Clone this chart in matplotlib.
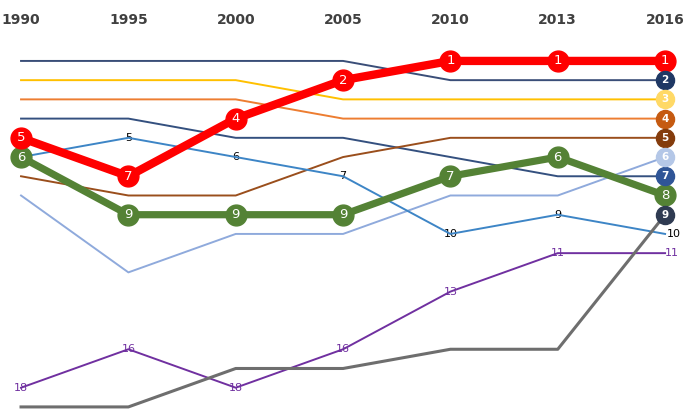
import matplotlib.pyplot as plt

years = ['1990', '1995', '2000', '2005', '2010', '2013', '2016']

# ranks per series (1 = top)
red = [5, 7, 4, 2, 1, 1, 1]
green = [6, 9, 9, 9, 7, 6, 8]
navy = [1, 1, 1, 1, 2, 2, 2]
yellow = [2, 2, 2, 3, 3, 3, 3]
orange = [3, 3, 3, 4, 4, 4, 4]
darkblue = [4, 4, 5, 5, 6, 7, 7]
brown = [7, 8, 8, 6, 5, 5, 5]
lightblue = [8, 12, 10, 10, 8, 8, 6]
blue = [6, 5, 6, 7, 10, 9, 10]
purple = [18, 16, 18, 16, 13, 11, 11]
gray = [19, 19, 17, 17, 16, 16, 9]

x = list(range(len(years)))

fig = plt.figure(figsize=(6.93, 4.2), dpi=100)
ax = fig.add_axes([0, 0, 1, 1])
ax.set_xlim(-0.196, 6.26)
ax.set_ylim(19.68, -2.17)
ax.axis('off')

for i, yr in enumerate(years):
    ax.text(i, -1.13, yr, ha='center', va='center', fontsize=10,
            fontweight='bold', color='#404040')

# thin background series with an end marker at 2016
thin = [
    (navy, '#3A4E78', '#1F3864', 'white'),
    (yellow, '#FFC000', '#FFD966', 'white'),
    (orange, '#ED7D31', '#C55A11', 'white'),
    (darkblue, '#34507F', '#2F5597', 'white'),
    (brown, '#9A4E1C', '#843C0C', 'white'),
    (lightblue, '#8FAADC', '#B4C7E7', 'white'),
]
for vals, lc, mc, tc in thin:
    ax.plot(x, vals, color=lc, lw=1.4, zorder=2)
    ax.plot(x[-1], vals[-1], 'o', ms=13, color=mc, zorder=6)
    ax.text(x[-1], vals[-1], str(vals[-1]), ha='center', va='center',
            fontsize=7.5, fontweight='bold', color=tc, zorder=7)

# blue series with black labels
for i, v in enumerate(blue):
    ax.text(i + (0.08 if i == 6 else 0), v, str(v), ha='center', va='center',
            fontsize=8, color='black', zorder=1)
ax.plot(x, blue, color='#3D85C6', lw=1.4, zorder=2)

# purple series with purple labels
for i, v in enumerate(purple):
    ax.text(i + (0.06 if i == 6 else 0), v, str(v), ha='center', va='center',
            fontsize=8, color='#7030A0', zorder=1)
ax.plot(x, purple, color='#7030A0', lw=1.4, zorder=2)

# gray series ending at rank 9
ax.plot(x, gray, color='#6E6E6E', lw=2.2, zorder=2)
ax.plot(x[-1], gray[-1], 'o', ms=13, color='#2F3B52', zorder=6)
ax.text(x[-1], gray[-1], str(gray[-1]), ha='center', va='center',
        fontsize=7.5, fontweight='bold', color='white', zorder=7)

# highlighted series
for vals, c, lw in [(green, '#548235', 5.2), (red, '#FF0000', 6)]:
    ax.plot(x, vals, color=c, lw=lw, zorder=4, solid_capstyle='round')
    ax.plot(x, vals, 'o', ms=15, color=c, zorder=5)
    for i, v in enumerate(vals):
        ax.text(i, v, str(v), ha='center', va='center', fontsize=9.5,
                color='white', zorder=8)

fig.savefig('out.png', dpi=100)
